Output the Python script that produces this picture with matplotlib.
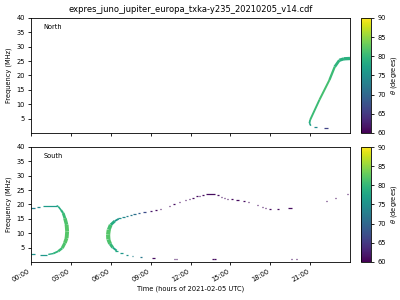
import numpy as np
from matplotlib import pyplot as plt
from matplotlib.collections import LineCollection
from matplotlib.colors import Normalize
from matplotlib.cm import ScalarMappable

title = "expres_juno_jupiter_europa_txka-y235_20210205_v14.cdf"
hour_ticks = [0, 3, 6, 9, 12, 15, 18, 21]
hour_labels = ["00:00", "03:00", "06:00", "09:00", "12:00", "15:00", "18:00", "21:00"]
freq_ticks = [5, 10, 15, 20, 25, 30, 35, 40]

# North: continuous arc (hours, MHz, theta deg, width pt)
n_t = [21.05, 20.95, 21.0, 21.7, 22.45, 22.85, 23.2, 23.55, 24.0]
n_f = [2.5, 3.4, 4.5, 11.5, 18.4, 23.0, 25.3, 25.8, 25.9]
n_th = [76, 78, 80, 81, 81, 80, 79, 79, 79]
n_w = [1.0, 1.2, 1.4, 1.4, 1.5, 1.8, 2.2, 2.4, 2.4]
# North: isolated cells (t start, t end, MHz, theta)
nc_t0 = [21.3, 22.05]
nc_t1 = [21.5, 22.35]
nc_f = [2.0, 1.6]
nc_th = [74, 66]

# South: first arc
s1_t = [0.9, 1.93, 2.05, 2.25, 2.42, 2.55, 2.68, 2.72, 2.68, 2.55, 2.35, 2.05, 1.67, 1.3]
s1_f = [19.6, 19.6, 19.3, 18.1, 17.0, 15.2, 12.9, 10.6, 8.3, 6.6, 4.8, 3.7, 2.9, 2.6]
s1_th = [76, 77, 78, 79, 80, 81, 82, 82, 82, 82, 81, 80, 79, 78]
s1_w = [0.9, 0.9, 1.0, 1.3, 1.8, 2.3, 2.8, 2.8, 2.8, 2.5, 2.0, 1.5, 1.1, 0.9]
# South: second arc (thick part)
s2_t = [6.6, 6.3, 6.0, 5.85, 5.8, 5.82, 5.95, 6.15, 6.45]
s2_f = [15.0, 14.2, 12.9, 11.2, 9.5, 7.8, 6.3, 5.0, 3.9]
s2_th = [75, 77, 80, 82, 82, 82, 81, 79, 77]
s2_w = [1.0, 1.6, 2.5, 3.0, 3.0, 3.0, 2.5, 1.8, 1.0]
# South: isolated cells
sc_t0 = [0.0, 0.43, 0.0, 0.68,
         6.55, 6.88, 7.15, 7.42, 7.68, 8.03, 8.43, 8.93, 9.35, 9.67, 10.35, 10.72,
         11.1, 11.55, 11.85, 12.15, 12.45, 12.67, 12.9, 13.2, 14.0, 14.33, 14.55,
         14.78, 15.08, 15.45, 15.93, 16.35, 17.03, 17.37, 17.6, 17.93, 18.53, 19.35,
         22.2, 22.85, 23.75,
         6.3, 6.68, 7.13, 7.58, 8.18, 9.08, 10.73, 10.88, 13.58, 13.8, 19.58, 19.95]
sc_t1 = [0.3, 0.68, 0.3, 1.2,
         6.8, 7.05, 7.3, 7.58, 7.88, 8.18, 8.63, 9.08, 9.45, 9.75, 10.43, 10.8,
         11.18, 11.63, 11.93, 12.23, 12.53, 12.75, 12.98, 13.88, 14.15, 14.4, 14.63,
         14.85, 15.23, 15.68, 16.1, 16.43, 17.1, 17.43, 17.66, 18.08, 18.68, 19.65,
         22.28, 22.92, 23.82,
         6.53, 6.9, 7.28, 7.65, 8.33, 9.3, 10.8, 10.95, 13.75, 13.95, 19.65, 20.0]
sc_f = [18.7, 19.0, 2.6, 2.4,
        15.2, 15.6, 15.9, 16.3, 16.6, 17.0, 17.3, 17.8, 18.1, 18.4, 19.4, 20.1,
        20.9, 21.6, 21.9, 22.4, 22.8, 23.0, 23.4, 23.5, 23.2, 22.7, 22.4,
        22.0, 21.8, 21.4, 21.1, 20.8, 19.7, 19.0, 18.7, 18.3, 18.3, 18.7,
        21.2, 22.1, 23.5,
        3.7, 3.1, 2.5, 2.2, 1.8, 1.4, 1.1, 1.1, 1.0, 1.0, 1.0, 1.0]
sc_th = [73, 74, 75, 76,
         75, 74, 73, 72, 71, 69, 67, 62, 61, 61, 61, 61,
         61, 61, 61, 61, 61, 61, 61, 61, 61, 61, 61,
         61, 61, 61, 61, 61, 61, 61, 61, 61, 61, 61,
         61, 61, 61,
         78, 76, 75, 73, 72, 61, 61, 61, 61, 61, 61, 61]

cmap = plt.get_cmap("viridis")
norm = Normalize(60, 90)
fs = 4.8


def draw_arc(ax, t, f, th, w):
    pts = np.column_stack([t, f])
    segs = np.stack([pts[:-1], pts[1:]], axis=1)
    th = np.asarray(th, float)
    w = np.asarray(w, float)
    lc = LineCollection(segs, cmap=cmap, norm=norm, linewidths=(w[:-1]+w[1:])/2)
    lc.set_array((th[:-1]+th[1:])/2)
    ax.add_collection(lc)


def draw_cells(ax, t0, t1, f, th):
    ax.hlines(f, t0, t1, colors=cmap(norm(np.asarray(th))), linewidth=0.9)


fig = plt.figure(figsize=(4, 3), dpi=100)
ax1 = fig.add_axes([0.0775, 0.557, 0.7975, 0.383])
ax2 = fig.add_axes([0.0775, 0.127, 0.7975, 0.383])
cax1 = fig.add_axes([0.9025, 0.557, 0.025, 0.383])
cax2 = fig.add_axes([0.9025, 0.127, 0.025, 0.383])

draw_arc(ax1, n_t, n_f, n_th, n_w)
draw_cells(ax1, nc_t0, nc_t1, nc_f, nc_th)
draw_arc(ax2, s1_t, s1_f, s1_th, s1_w)
draw_arc(ax2, s2_t, s2_f, s2_th, s2_w)
draw_cells(ax2, sc_t0, sc_t1, sc_f, sc_th)

for ax, name in [(ax1, "North"), (ax2, "South")]:
    ax.set_xlim(0, 24)
    ax.set_ylim(0, 40)
    ax.set_yticks(freq_ticks)
    ax.set_xticks(hour_ticks)
    ax.tick_params(labelsize=fs, length=2.5, width=0.6, pad=2)
    ax.set_ylabel("Frequency (MHz)", fontsize=fs, labelpad=3)
    ax.text(0.04, 0.9, name, transform=ax.transAxes, fontsize=fs)
    for s in ax.spines.values():
        s.set_linewidth(0.6)

ax1.set_xticklabels([])
ax2.set_xticklabels(hour_labels, rotation=30, ha="right")
ax2.set_xlabel("Time (hours of 2021-02-05 UTC)", fontsize=fs, labelpad=2)
ax1.set_title(title, fontsize=6, pad=4)

for cax in [cax1, cax2]:
    cb = fig.colorbar(ScalarMappable(norm=norm, cmap=cmap), cax=cax)
    cb.set_ticks([60, 65, 70, 75, 80, 85, 90])
    cb.ax.tick_params(labelsize=fs, length=2.5, width=0.6, pad=2)
    cb.outline.set_linewidth(0.6)
    cb.set_label(r"$\theta$ (degrees)", fontsize=fs, labelpad=2)

fig.savefig("out.png", dpi=100)
plt.close()
